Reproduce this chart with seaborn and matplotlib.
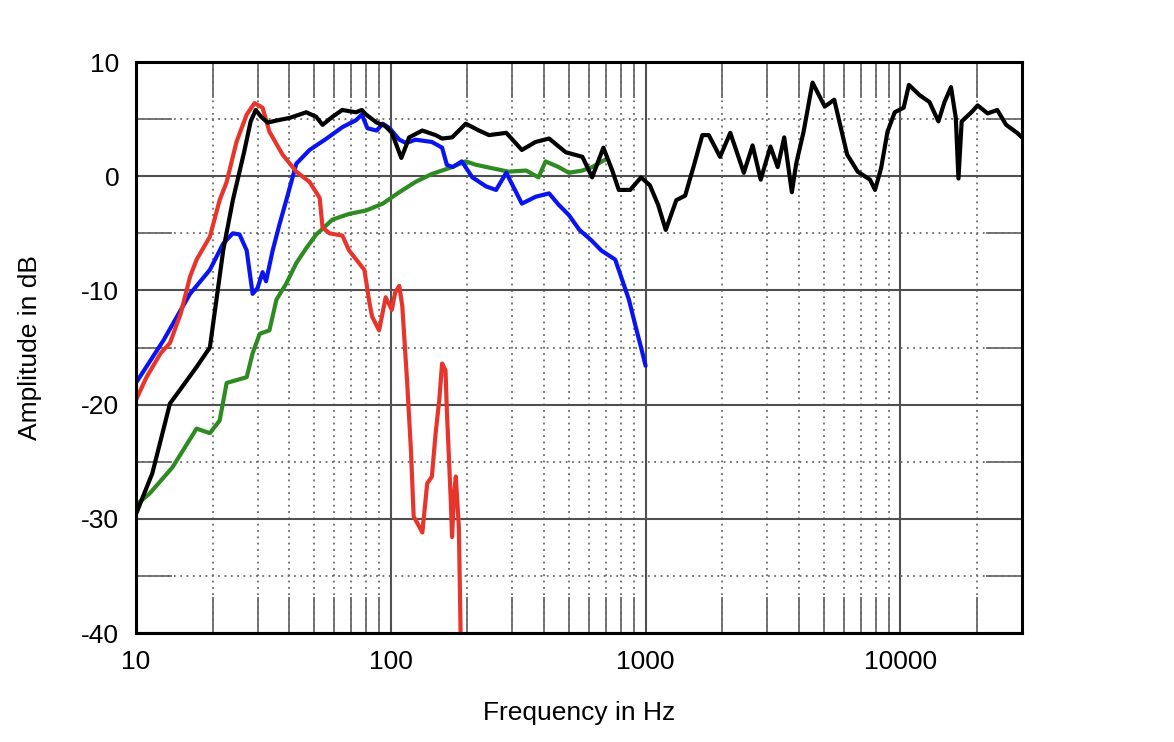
import matplotlib
matplotlib.use("Agg")
from matplotlib import pyplot as plt
from matplotlib import ticker
import seaborn as sns

# frequency response curves (Hz, dB)
black_hz = [10, 11.6, 13.6, 14.9, 17.3, 19.5, 20.7, 22, 24, 26.5, 28.2, 29.5, 31, 32.9, 36, 40,
            46.6, 51, 54, 59, 64.5, 73, 77, 80, 88, 95, 101, 110, 115, 118, 133, 150, 159, 174,
            197, 222, 243, 284, 327, 370, 418, 486, 565, 617, 683, 740, 785, 870, 960, 1040,
            1120, 1200, 1320, 1430, 1550, 1670, 1770, 1960, 2150, 2430, 2630, 2830, 3090, 3300,
            3500, 3750, 3900, 4170, 4520, 5050, 5500, 6180, 6800, 7600, 7950, 8400, 8900, 9500,
            10300, 10800, 11900, 13000, 14100, 14900, 15800, 16500, 16900, 17400, 19000, 20100,
            22000, 24000, 26000, 28700, 30000]
black_db = [-29.6, -26, -19.9, -18.7, -16.7, -15, -10.8, -6.5, -2.1, 2.0, 4.8, 5.8, 5.2, 4.7, 4.9, 5.1,
            5.6, 5.2, 4.5, 5.2, 5.8, 5.6, 5.8, 5.4, 4.7, 4.4, 3.8, 1.6, 2.7, 3.4, 4.0, 3.6, 3.3, 3.4,
            4.6, 4.0, 3.6, 3.8, 2.3, 3.0, 3.3, 2.1, 1.7, -0.1, 2.5, 0.5, -1.2, -1.2, -0.1, -0.8,
            -2.5, -4.7, -2.1, -1.7, 1.0, 3.6, 3.6, 1.7, 3.8, 0.3, 2.7, -0.3, 2.6, 0.8,
            3.4, -1.4, 1.1, 3.9, 8.2, 6.1, 6.7, 1.9, 0.4, -0.3, -1.2, 0.7, 3.9, 5.6,
            6.0, 8.0, 7.1, 6.5, 4.8, 6.5, 7.8, 5.1, -0.2, 4.8, 5.6, 6.2,
            5.5, 5.8, 4.5, 3.8, 3.4]

red_hz = [10, 11, 12.5, 13.6, 15, 16.3, 17.3, 19.5, 21.3, 22.7, 24.8, 27.2, 29.2, 31.4, 33.4, 37.6,
          42.6, 48, 52.6, 54, 57.5, 64.6, 68.6, 75, 78.8, 82.5, 84.5, 90, 95.5, 101, 104, 108, 111,
          116, 120, 123, 128, 133, 139, 145, 150, 155, 159, 164, 166, 172, 174, 177, 180, 183,
          185, 188]
red_db = [-19.6, -17.6, -15.5, -14.6, -12, -8.8, -7.3, -5.3, -2.1, -0.5, 3.0, 5.4, 6.4, 6.0, 3.9, 1.9,
          0.4, -0.5, -1.9, -4.5, -5.0, -5.2, -6.5, -7.6, -8.2, -11.1, -12.3, -13.5, -10.6, -11.7, -10.2,
          -9.6, -11.4, -18.1, -24, -29.8, -30.5, -31.2, -26.9, -26.3, -22.5, -19.6, -16.4, -17, -20.5,
          -28.4, -31.6, -28, -26.3, -29, -30.7, -40]

blue_hz = [10, 12.8, 16.3, 19.5, 22, 24, 25.5, 27.2, 28.7, 30, 31.4, 32.4, 34.4, 36.6, 38.9, 42.6,
           48, 56, 64.6, 73, 77, 81, 88, 93, 99, 108, 115, 125, 145, 159, 166, 175, 190, 209, 237,
           259, 284, 327, 370, 418, 456, 500, 550, 612, 670, 760, 810, 860, 915, 965, 1000]
blue_db = [-18.1, -14.4, -10.3, -8.2, -5.9, -5.0, -5.1, -6.5, -10.3, -9.8, -8.4, -9.2, -6.5, -4.2, -2.1, 1.1,
           2.3, 3.3, 4.3, 4.9, 5.4, 4.2, 4.0, 4.6, 4.2, 3.2, 2.9, 3.2, 3.0, 2.5, 1.0, 0.8, 1.3, -0.1, -0.9,
           -1.2, 0.3, -2.4, -1.8, -1.5, -2.5, -3.4, -4.7, -5.6, -6.5, -7.3, -9.1, -10.8, -13.2, -15.2, -16.6]

green_hz = [10, 11.3, 13.9, 17.3, 19.5, 21.3, 22.7, 27.2, 28.7, 30.6, 33.4, 35.6, 38.9, 42.6, 46.6,
            51, 54, 59, 68.6, 80, 93, 108, 125, 145, 169, 197, 216, 250, 290, 340, 380, 405, 456,
            500, 565, 617, 700]
green_db = [-28.8, -27.8, -25.5, -22.1, -22.5, -21.4, -18.1, -17.6, -15.5, -13.8, -13.5, -10.8, -9.4,
            -7.6, -6.3, -5.1, -4.6, -3.8, -3.3, -3.0, -2.4, -1.4, -0.5, 0.2, 0.7, 1.3, 1.0, 0.7, 0.4,
            0.5, -0.1, 1.3, 0.8, 0.3, 0.5, 0.8, 1.5]

x_ticks = [10, 100, 1000, 10000]
x_labels = ["10", "100", "1000", "10000"]
y_ticks = [-40, -30, -20, -10, 0, 10]

sns.set_style("white")
plt.rcParams["font.family"] = ["Liberation Sans", "DejaVu Sans"]
plt.rcParams["axes.unicode_minus"] = False
plt.rcParams["text.color"] = "black"
plt.rcParams["axes.labelcolor"] = "black"
plt.rcParams["xtick.color"] = "black"
plt.rcParams["ytick.color"] = "black"

fig = plt.figure(figsize=(11.74, 7.42), dpi=100)
ax = fig.add_axes([0.1158, 0.1469, 0.7547, 0.7695])

lw = 3.0
sns.lineplot(x=green_hz, y=green_db, color="#2e8b22", lw=lw, ax=ax)
sns.lineplot(x=blue_hz, y=blue_db, color="#0a14f0", lw=lw, ax=ax)
sns.lineplot(x=red_hz, y=red_db, color="#e8352b", lw=lw, ax=ax)
sns.lineplot(x=black_hz, y=black_db, color="black", lw=lw, ax=ax)

ax.set_xscale("log")
ax.set_xlim(10, 30000)
ax.set_ylim(-40, 10)

ax.set_xticks(x_ticks)
ax.set_xticklabels(x_labels)
ax.xaxis.set_minor_locator(ticker.LogLocator(base=10, subs=[2, 3, 4, 5, 6, 7, 8, 9], numticks=20))
ax.xaxis.set_minor_formatter(ticker.NullFormatter())
ax.set_yticks(y_ticks)
ax.yaxis.set_minor_locator(ticker.MultipleLocator(5))

ax.grid(which="major", color="#505050", lw=1.5, ls="-")
ax.grid(which="minor", color="#6a6a6a", lw=1.3, ls=(0, (1, 2.5)))
ax.set_axisbelow(True)

ax.tick_params(which="major", length=0, pad=12, labelsize=19)
ax.tick_params(which="minor", direction="in", length=26, width=1.3, color="#6a6a6a",
               top=True, right=True, bottom=True, left=True)

for s in ax.spines.values():
    s.set_visible(True)
    s.set_color("black")
    s.set_linewidth(2.2)

ax.set_xlabel("Frequency in Hz", fontsize=19, labelpad=20)
ax.set_ylabel("Amplitude in dB", fontsize=19, labelpad=28)

fig.savefig("out.png", dpi=100)
